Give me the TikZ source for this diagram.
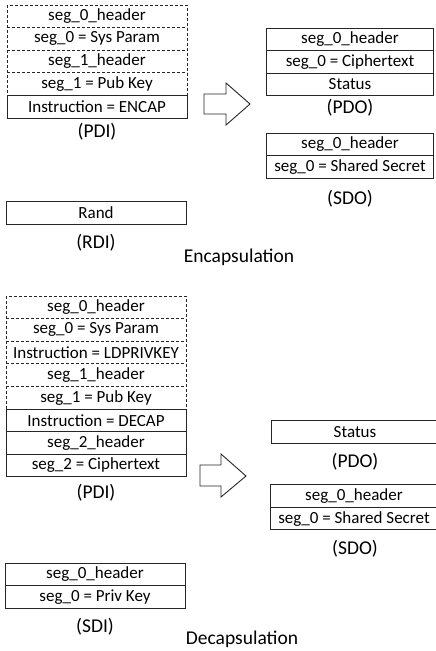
\documentclass[tikz,border=0pt]{standalone}
\usepackage{fontspec}
\setmainfont{Carlito}
\usetikzlibrary{positioning}
\begin{document}
\begin{tikzpicture}[x=1pt,y=-1pt,node distance=0pt,
    cell/.style={draw=black!85,line width=0.9pt,minimum width=180pt,minimum height=22.6pt,
      inner sep=0pt,outer sep=0pt,font=\fontsize{17}{18}\selectfont},
    dcell/.style={cell,draw=none},
    ocell/.style={cell,minimum width=167pt},
    dashline/.style={draw=black!85,line width=0.9pt,dash pattern=on 3pt off 2pt},
    caption/.style={font=\fontsize{19.5}{22}\selectfont},
    blockarrow/.style={draw=black!85,line width=0.9pt,line join=miter}]
  \clip (0,0) rectangle (436,651);
  % encapsulation: input segments
  \node[dcell] (ehdr0) at (97,16.3) {seg\_0\_header};
  \node[dcell,below=of ehdr0] (eparam) {seg\_0 = Sys Param};
  \node[dcell,below=of eparam] (ehdr1) {seg\_1\_header};
  \node[dcell,below=of ehdr1] (epub) {seg\_1 = Pub Key};
  \draw[dashline] (ehdr0.north west) rectangle (epub.south east);
  \foreach \n in {ehdr0,eparam,ehdr1}
    \draw[dashline] (\n.south west) -- (\n.south east);
  \node[cell,below=of epub] (eencap) {Instruction = ENCAP};
  \node[caption] (epdi) at (97,132) {(PDI)};
  \node[cell] (erand) at (96,213) {Rand};
  \node[caption] (erdi) at (96,243) {(RDI)};
  \draw[blockarrow] (204,94) -- (226,94) -- (226,83) -- (250,104) -- (226,125) -- (226,114) -- (204,114) -- cycle;
  % encapsulation: outputs
  \node[ocell] (ohdr0) at (350,39.3) {seg\_0\_header};
  \node[ocell,below=of ohdr0] (ocipher) {seg\_0 = Ciphertext};
  \node[ocell,below=of ocipher] (ostatus) {Status};
  \node[caption] (epdo) at (350,108) {(PDO)};
  \node[ocell] (shdr0) at (350,144.3) {seg\_0\_header};
  \node[ocell,below=of shdr0] (ssecret) {seg\_0 = Shared Secret};
  \node[caption] (esdo) at (350,199) {(SDO)};
  \node[caption] (enctitle) at (239,257) {Encapsulation};
  % decapsulation: input segments
  \node[dcell] (dhdr0) at (96,307.3) {seg\_0\_header};
  \node[dcell,below=of dhdr0] (dparam) {seg\_0 = Sys Param};
  \node[dcell,below=of dparam] (dldpriv) {Instruction = LDPRIVKEY};
  \node[dcell,below=of dldpriv] (dhdr1) {seg\_1\_header};
  \node[dcell,below=of dhdr1] (dpub) {seg\_1 = Pub Key};
  \draw[dashline] (dhdr0.north west) rectangle (dpub.south east);
  \foreach \n in {dhdr0,dparam,dldpriv,dhdr1}
    \draw[dashline] (\n.south west) -- (\n.south east);
  \node[cell,below=of dpub] (ddecap) {Instruction = DECAP};
  \node[cell,below=of ddecap] (dhdr2) {seg\_2\_header};
  \node[cell,below=of dhdr2] (dcipher) {seg\_2 = Ciphertext};
  \node[caption] (dpdi) at (96,493) {(PDI)};
  \node[cell] (khdr0) at (95,574.5) {seg\_0\_header};
  \node[cell,below=of khdr0] (kpriv) {seg\_0 = Priv Key};
  \node[caption] (dsdi) at (95,627) {(SDI)};
  \draw[blockarrow] (200,465) -- (221,465) -- (221,454) -- (246,476) -- (221,497) -- (221,486) -- (200,486) -- cycle;
  % decapsulation: outputs
  \node[ocell,minimum width=168pt] (pstatus) at (355,432) {Status};
  \node[caption] (dpdo) at (355,462) {(PDO)};
  \node[ocell,minimum width=168pt] (thdr0) at (354,496) {seg\_0\_header};
  \node[ocell,minimum width=168pt,below=of thdr0] (tsecret) {seg\_0 = Shared Secret};
  \node[caption] (dsdo) at (355,549) {(SDO)};
  \node[caption] (dectitle) at (242,639) {Decapsulation};
\end{tikzpicture}
\end{document}
